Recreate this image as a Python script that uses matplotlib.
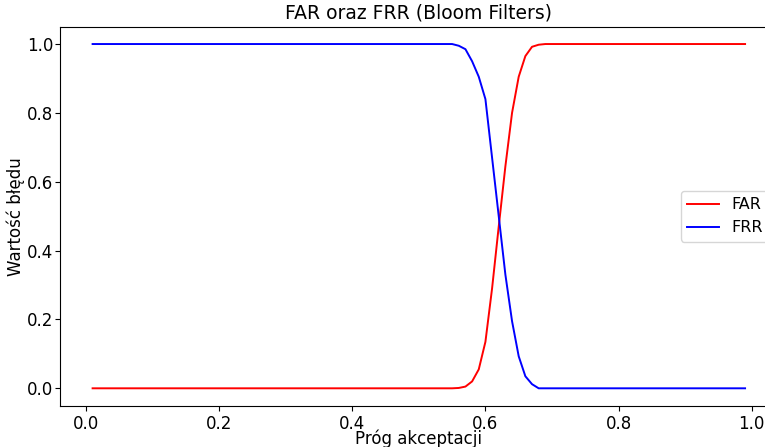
import matplotlib
matplotlib.use("Agg")
import matplotlib.pyplot as plt

# Acceptance thresholds 0.01 ... 0.99
thresholds = [
    0.01, 0.02, 0.03, 0.04, 0.05, 0.06, 0.07, 0.08, 0.09, 0.10,
    0.11, 0.12, 0.13, 0.14, 0.15, 0.16, 0.17, 0.18, 0.19, 0.20,
    0.21, 0.22, 0.23, 0.24, 0.25, 0.26, 0.27, 0.28, 0.29, 0.30,
    0.31, 0.32, 0.33, 0.34, 0.35, 0.36, 0.37, 0.38, 0.39, 0.40,
    0.41, 0.42, 0.43, 0.44, 0.45, 0.46, 0.47, 0.48, 0.49, 0.50,
    0.51, 0.52, 0.53, 0.54, 0.55, 0.56, 0.57, 0.58, 0.59, 0.60,
    0.61, 0.62, 0.63, 0.64, 0.65, 0.66, 0.67, 0.68, 0.69, 0.70,
    0.71, 0.72, 0.73, 0.74, 0.75, 0.76, 0.77, 0.78, 0.79, 0.80,
    0.81, 0.82, 0.83, 0.84, 0.85, 0.86, 0.87, 0.88, 0.89, 0.90,
    0.91, 0.92, 0.93, 0.94, 0.95, 0.96, 0.97, 0.98, 0.99,
]

# False acceptance rate per threshold
far = [
    0.0, 0.0, 0.0, 0.0, 0.0, 0.0, 0.0, 0.0, 0.0, 0.0,
    0.0, 0.0, 0.0, 0.0, 0.0, 0.0, 0.0, 0.0, 0.0, 0.0,
    0.0, 0.0, 0.0, 0.0, 0.0, 0.0, 0.0, 0.0, 0.0, 0.0,
    0.0, 0.0, 0.0, 0.0, 0.0, 0.0, 0.0, 0.0, 0.0, 0.0,
    0.0, 0.0, 0.0, 0.0, 0.0, 0.0, 0.0, 0.0, 0.0, 0.0,
    0.0, 0.0, 0.0, 0.0, 0.0, 0.001, 0.005, 0.02, 0.055, 0.135,
    0.29, 0.47, 0.645, 0.80, 0.905, 0.965, 0.992, 0.998, 1.0, 1.0,
    1.0, 1.0, 1.0, 1.0, 1.0, 1.0, 1.0, 1.0, 1.0, 1.0,
    1.0, 1.0, 1.0, 1.0, 1.0, 1.0, 1.0, 1.0, 1.0, 1.0,
    1.0, 1.0, 1.0, 1.0, 1.0, 1.0, 1.0, 1.0, 1.0,
]

# False rejection rate per threshold
frr = [
    1.0, 1.0, 1.0, 1.0, 1.0, 1.0, 1.0, 1.0, 1.0, 1.0,
    1.0, 1.0, 1.0, 1.0, 1.0, 1.0, 1.0, 1.0, 1.0, 1.0,
    1.0, 1.0, 1.0, 1.0, 1.0, 1.0, 1.0, 1.0, 1.0, 1.0,
    1.0, 1.0, 1.0, 1.0, 1.0, 1.0, 1.0, 1.0, 1.0, 1.0,
    1.0, 1.0, 1.0, 1.0, 1.0, 1.0, 1.0, 1.0, 1.0, 1.0,
    1.0, 1.0, 1.0, 1.0, 1.0, 0.995, 0.985, 0.95, 0.905, 0.84,
    0.67, 0.50, 0.33, 0.195, 0.093, 0.035, 0.012, 0.0, 0.0, 0.0,
    0.0, 0.0, 0.0, 0.0, 0.0, 0.0, 0.0, 0.0, 0.0, 0.0,
    0.0, 0.0, 0.0, 0.0, 0.0, 0.0, 0.0, 0.0, 0.0, 0.0,
    0.0, 0.0, 0.0, 0.0, 0.0, 0.0, 0.0, 0.0, 0.0,
]

fig = plt.figure(figsize=(7.65, 4.47), dpi=100)
ax = fig.add_axes([0.0784, 0.0928, 0.9382, 0.8472])

ax.plot(thresholds, far, color="red", linewidth=1.4, label="FAR")
ax.plot(thresholds, frr, color="blue", linewidth=1.4, label="FRR")

ax.set_title("FAR oraz FRR (Bloom Filters)", fontsize=13.5)
ax.set_xlabel("Próg akceptacji", fontsize=12, labelpad=-2)
ax.set_ylabel("Wartość błędu", fontsize=12, labelpad=1)
ax.tick_params(axis="x", labelsize=12, pad=3)
ax.tick_params(axis="y", labelsize=12, pad=1.5)
ax.legend(loc="center right", fontsize=11.5)

fig.savefig("out.png", dpi=100)
